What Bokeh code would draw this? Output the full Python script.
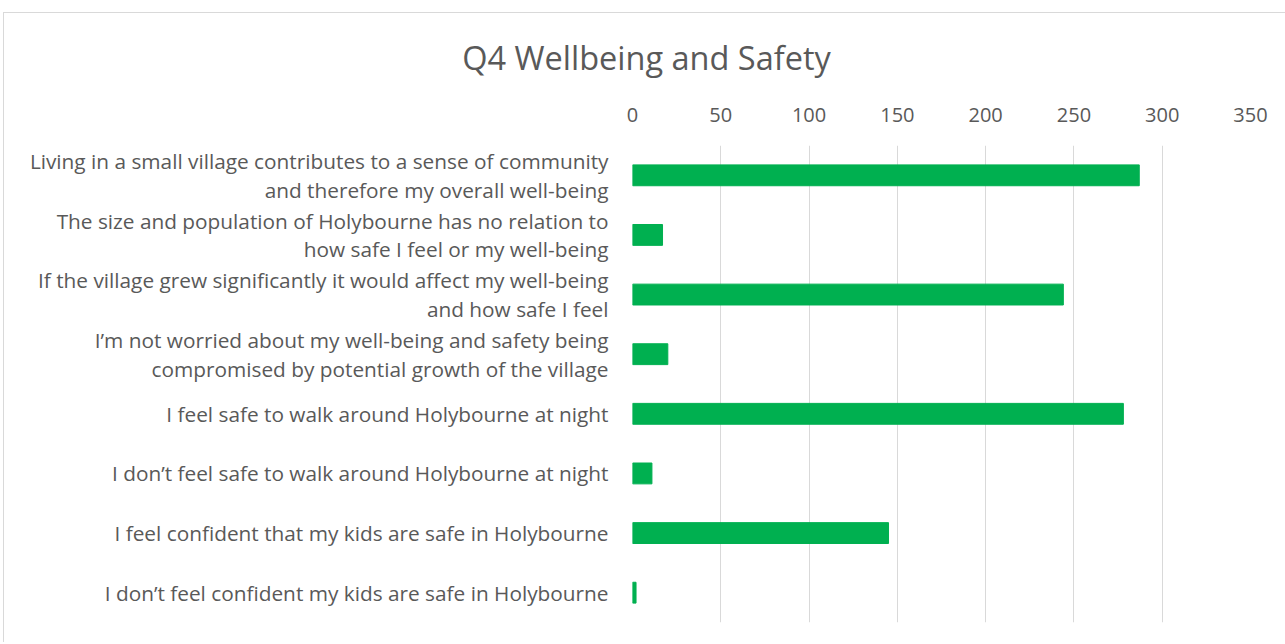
from bokeh.plotting import figure
from bokeh.models import FactorRange, FixedTicker, Div, Column
from bokeh.embed import file_html
from bokeh.resources import INLINE

categories = [
    "Living in a small village contributes to a sense of community\nand therefore my overall well-being",
    "The size and population of Holybourne has no relation to\nhow safe I feel or my well-being",
    "If the village grew significantly it would affect my well-being\nand how safe I feel",
    "I’m not worried about my well-being and safety being\ncompromised by potential growth of the village",
    "I feel safe to walk around Holybourne at night",
    "I don’t feel safe to walk around Holybourne at night",
    "I feel confident that my kids are safe in Holybourne",
    "I don’t feel confident my kids are safe in Holybourne",
]
values = [287, 17, 244, 20, 278, 11, 145, 2]
x_ticks = [0, 50, 100, 150, 200, 250, 300, 350]

FONT = "Open Sans"
GREY = "#595959"

p = figure(
    width=1275, height=553,
    y_range=FactorRange(factors=list(reversed(categories))),
    x_range=(0, 350),
    x_axis_location="above",
    output_backend="svg", toolbar_location=None,
    min_border_left=628, min_border_right=29, min_border_top=56, min_border_bottom=20,
)
p.hbar(y=categories, right=values, left=0, height=0.35, color="#00b050")

p.outline_line_color = None
p.background_fill_color = "white"
p.border_fill_color = "white"

p.xaxis.ticker = FixedTicker(ticks=x_ticks)
p.xaxis.axis_line_color = None
p.xaxis.major_tick_line_color = None
p.xaxis.minor_tick_line_color = None
p.xaxis.major_label_text_color = GREY
p.xaxis.major_label_text_font = FONT
p.xaxis.major_label_text_font_size = "20px"
p.xaxis.major_label_standoff = 18

p.yaxis.axis_line_color = None
p.yaxis.major_tick_line_color = None
p.yaxis.major_label_text_color = GREY
p.yaxis.major_label_text_font = FONT
p.yaxis.major_label_text_font_size = "20.8px"
p.yaxis.major_label_standoff = 18
p.yaxis.major_label_text_line_height = 1.03

p.xgrid.grid_line_color = "#d9d9d9"
p.xgrid.grid_line_width = 1
p.ygrid.grid_line_color = None

title = Div(
    text='<div style="padding-top:17px; width:1275px; text-align:center;">Q4 Wellbeing and Safety</div>',
    width=1275, height=66,
    styles={"font-family": FONT, "font-size": "32.5px", "color": GREY},
)

layout = Column(title, p, styles={"border-left": "1px solid #d9d9d9",
                                  "border-top": "1px solid #d9d9d9",
                                  "margin-left": "3px", "margin-top": "12px"})

open("out.html", "w").write(file_html(layout, INLINE))
